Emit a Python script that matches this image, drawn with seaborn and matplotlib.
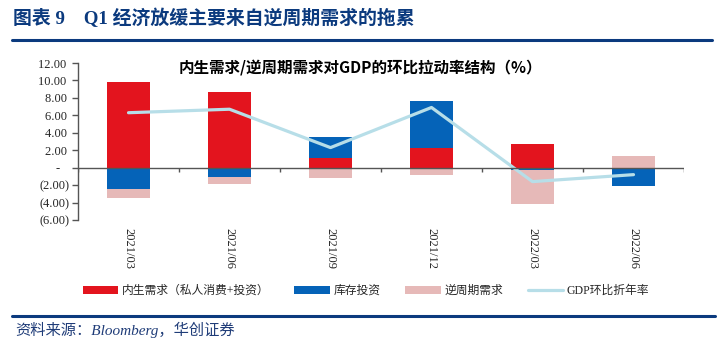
"""
GDP q/q contribution structure: domestic vs counter-cyclical demand
"""

import numpy as np
import pandas as pd
import seaborn as sns
import matplotlib.pyplot as plt
from matplotlib.lines import Line2D
from matplotlib.patches import Patch
from matplotlib.ticker import FuncFormatter, MultipleLocator

quarters = ["2021/03", "2021/06", "2021/09", "2021/12", "2022/03", "2022/06"]
domestic = [9.8, 8.7, 1.1, 2.2, 2.7, 0.0]      # 内生需求（私人消费+投资）
inventory = [-2.5, -1.1, 2.4, 5.5, -0.3, -2.1]  # 库存投资
counter = [-1.0, -0.8, -1.2, -0.8, -3.9, 1.3]   # 逆周期需求
gdp_saar = [6.3, 6.7, 2.3, 6.9, -1.6, -0.8]     # GDP环比折年率

series_names = ["内生需求（私人消费+投资）", "库存投资", "逆周期需求"]
series_colors = ["#E3141E", "#0563B8", "#E6B9B8"]
line_name = "GDP环比折年率"
line_color = "#B7DEE8"
navy = "#0B3A7E"

MIXED = ["Liberation Serif", "Noto Sans CJK SC"]


def acct(v, pos):
    """Accounting style tick labels"""
    if abs(v) < 1e-9:
        return "-   "
    if v < 0:
        return f"({abs(v):.2f})"
    return f"{v:.2f} "


def stacked_bottoms(columns):
    """Excel-style stacking: positives upward, negatives downward"""
    pos = np.zeros(len(columns[0]))
    neg = np.zeros(len(columns[0]))
    bottoms = []
    for col in columns:
        col = np.asarray(col, dtype=float)
        b = np.where(col >= 0, pos, neg)
        bottoms.append(b)
        pos = pos + np.clip(col, 0, None)
        neg = neg + np.clip(col, None, 0)
    return bottoms


sns.set_style("white")
plt.rcParams["font.family"] = MIXED

fig = plt.figure(figsize=(7.24, 3.51), dpi=100)
ax = fig.add_axes([78 / 724, 1 - 220 / 351, 606 / 724, 157 / 351])

columns = [domestic, inventory, counter]
bottoms = stacked_bottoms(columns)
for vals, bot, color in zip(columns, bottoms, series_colors):
    df = pd.DataFrame({"quarter": quarters, "value": vals})
    sns.barplot(data=df, x="quarter", y="value", color=color, width=0.42,
                saturation=1, bottom=bot, linewidth=0, ax=ax)

df_line = pd.DataFrame({"quarter": quarters, "gdp": gdp_saar})
sns.lineplot(data=df_line, x="quarter", y="gdp", color=line_color,
             linewidth=2.3, sort=False, ax=ax)

ax.set_xlim(-0.5, len(quarters) - 0.5)
ax.set_ylim(-6, 12)
ax.yaxis.set_major_locator(MultipleLocator(2))
ax.yaxis.set_major_formatter(FuncFormatter(acct))
ax.set_xlabel("")
ax.set_ylabel("")

# zero line with ticks between categories
ax.axhline(0, color="#555555", linewidth=1.0, zorder=3)
edges = np.arange(len(quarters) + 1) - 0.5
ax.vlines(edges, -0.45, 0, color="#555555", linewidth=1.0, zorder=3)

for side in ["top", "right", "bottom"]:
    ax.spines[side].set_visible(False)
ax.spines["left"].set_color("#555555")
ax.spines["left"].set_linewidth(1.0)

ax.tick_params(axis="y", which="major", left=True, length=4, width=1,
               color="#555555", labelsize=9, pad=2)
ax.tick_params(axis="x", length=0, labelsize=9, pad=6)
ax.set_xticks(range(len(quarters)))
ax.set_xticklabels(quarters, rotation=-90, family=MIXED)
for lbl in ax.get_yticklabels():
    lbl.set_family(MIXED)

if ax.get_legend():
    ax.get_legend().remove()

# chart title inside the plot
fig.text(360 / 724, 1 - 68 / 351, "内生需求/逆周期需求对GDP的环比拉动率结构（%）",
         ha="center", va="center", fontsize=11.2, fontweight="bold",
         family=["Noto Sans CJK SC", "DejaVu Sans"], color="black")

# legend
handles = [Patch(facecolor=c, edgecolor="none") for c in series_colors]
handles.append(Line2D([0], [0], color=line_color, linewidth=2.3))
fig.legend(handles, series_names + [line_name], loc="center",
           bbox_to_anchor=(366 / 724, 1 - 291 / 351), ncol=4, frameon=False,
           prop={"family": MIXED, "size": 8.5}, handlelength=3.0,
           handleheight=0.6, handletextpad=0.3, columnspacing=2.1)

# report header and footer
fig.text(13 / 724, 1 - 18 / 351, "图表 9    Q1 经济放缓主要来自逆周期需求的拖累",
         ha="left", va="center", fontsize=13.6, fontweight="bold",
         family=MIXED, color=navy)
fig.add_artist(Line2D([12 / 724, 712 / 724], [1 - 40 / 351, 1 - 40 / 351],
                      color=navy, linewidth=2.2))
fig.add_artist(Line2D([12 / 724, 715 / 724], [1 - 316 / 351, 1 - 316 / 351],
                      color=navy, linewidth=2.2))
fig.text(15 / 724, 1 - 330 / 351, "资料来源：Bloomberg，华创证券",
         ha="left", va="center", fontsize=11, style="italic",
         family=MIXED, color="#1F3C78")

fig.savefig("out.png", dpi=100)
